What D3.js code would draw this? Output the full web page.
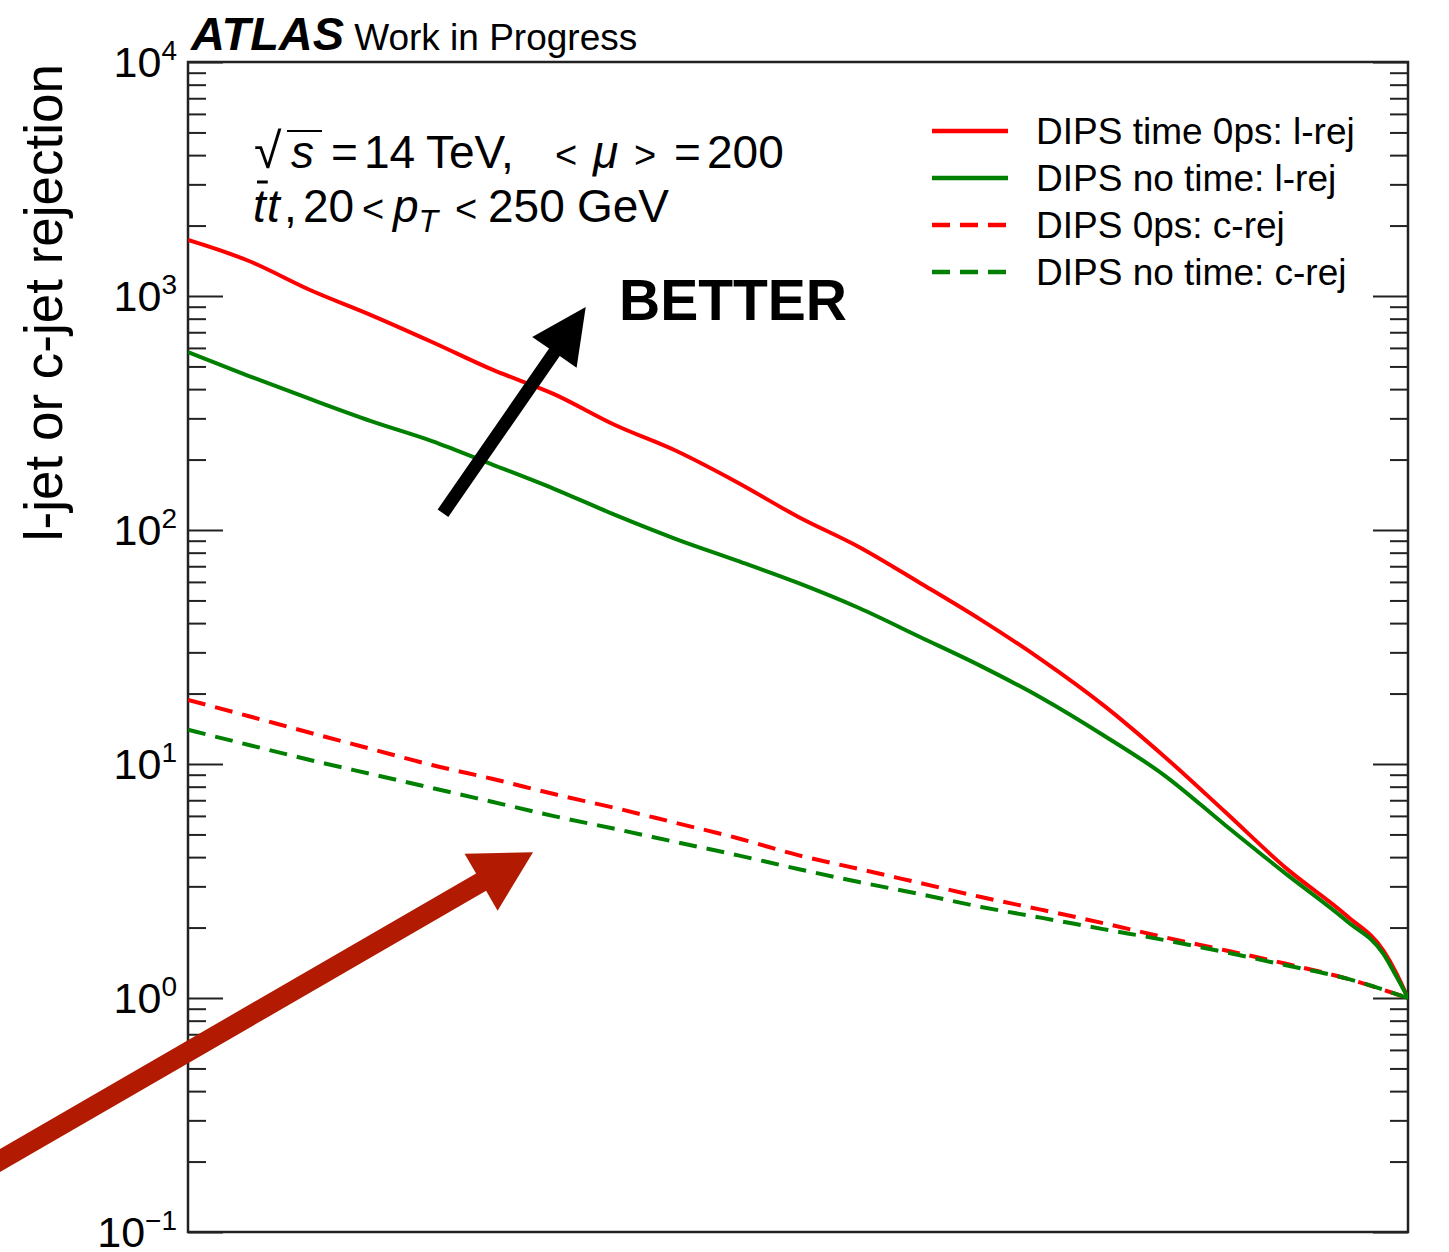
<!DOCTYPE html>
<html>
<head>
<meta charset="utf-8">
<script src="https://cdn.jsdelivr.net/npm/d3@7"></script>
<style>
body { margin: 0; background: #fff; }
svg text { font-family: "Liberation Sans", Arial, Helvetica, sans-serif; fill: #000; }
</style>
</head>
<body>
<div id="chart"></div>
<script>
var effSolid = [0.5, 0.525, 0.55, 0.575, 0.6, 0.625, 0.65, 0.675, 0.7, 0.725, 0.75,
                0.775, 0.8, 0.825, 0.85, 0.875, 0.9, 0.925, 0.95, 0.975, 0.99, 0.995, 1.0];
var effDashed = [0.5, 0.525, 0.55, 0.575, 0.6, 0.625, 0.65, 0.675, 0.7, 0.725, 0.75,
                 0.775, 0.8, 0.825, 0.85, 0.875, 0.9, 0.925, 0.95, 0.975, 1.0];

// light-jet rejection
var lrejTime   = [1735, 1411, 1061, 829, 636, 483, 381, 281, 218, 160, 114,
                  84.6, 59.4, 41.3, 27.8, 17.9, 10.8, 6.25, 3.59, 2.24, 1.59, 1.29, 1.0];
var lrejNoTime = [576, 455, 363, 292, 240, 190, 150, 116, 91.5, 74.0, 59.4,
                  46.4, 34.9, 26.2, 19.1, 13.3, 8.97, 5.49, 3.39, 2.13, 1.54, 1.25, 1.0];
// c-jet rejection
var crejTime   = [18.8, 16.0, 13.6, 11.6, 9.90, 8.63, 7.44, 6.49, 5.60, 4.83, 4.08,
                  3.56, 3.10, 2.70, 2.38, 2.09, 1.82, 1.60, 1.40, 1.21, 1.0];
var crejNoTime = [14.0, 12.06, 10.4, 9.06, 7.90, 6.88, 5.99, 5.28, 4.64, 4.08, 3.56,
                  3.13, 2.78, 2.45, 2.20, 1.97, 1.77, 1.57, 1.38, 1.21, 1.0];

var seriesNames = ["DIPS time 0ps: l-rej", "DIPS no time: l-rej", "DIPS 0ps: c-rej", "DIPS no time: c-rej"];
var yExponents = [-1, 0, 1, 2, 3, 4];

var w = 1449, h = 1252;
// plot frame (note: "top" is taken by window.top, so use other names)
var pLeft = 188, pRight = 1408, pTop = 62, pBottom = 1232;

var svg = d3.select("#chart").append("svg")
    .attr("width", w)
    .attr("height", h);

var x = d3.scaleLinear().domain([0.5, 1]).range([pLeft, pRight]);
var y = d3.scaleLog().domain([0.1, 1e4]).range([pBottom, pTop]);

// ticks: minor ones short, decades long, mirrored on the right side
var isDecade = function(d) { var l = Math.log10(d); return Math.abs(l - Math.round(l)) < 1e-6; };
var minor = y.ticks().filter(function(d) { return !isDecade(d); });
var major = yExponents.map(function(e) { return Math.pow(10, e); });

function styleAxis(g) {
    g.select(".domain").remove();
    g.selectAll(".tick line").attr("stroke", "#222").attr("stroke-width", 2);
}
svg.append("g").attr("transform", "translate(" + pLeft + ",0)")
    .call(d3.axisLeft(y).tickValues(minor).tickSize(-18).tickFormat(""))
    .call(styleAxis);
svg.append("g").attr("transform", "translate(" + pLeft + ",0)")
    .call(d3.axisLeft(y).tickValues(major).tickSize(-35).tickFormat(""))
    .call(styleAxis);
svg.append("g").attr("transform", "translate(" + pRight + ",0)")
    .call(d3.axisRight(y).tickValues(minor).tickSize(-18).tickFormat(""))
    .call(styleAxis);
svg.append("g").attr("transform", "translate(" + pRight + ",0)")
    .call(d3.axisRight(y).tickValues(major).tickSize(-35).tickFormat(""))
    .call(styleAxis);

// 10^n labels
var labels = svg.append("g").selectAll("text")
    .data(yExponents)
    .enter().append("text")
    .attr("x", 177)
    .attr("y", function(e) { return y(Math.pow(10, e)) + 15; })
    .attr("text-anchor", "end")
    .attr("font-size", 43);
labels.append("tspan").text("10");
labels.append("tspan")
    .attr("font-size", 28)
    .attr("dy", -17)
    .text(function(e) { return e < 0 ? "\u2212" + (-e) : e; });

// frame
svg.append("rect")
    .attr("x", pLeft).attr("y", pTop)
    .attr("width", pRight - pLeft).attr("height", pBottom - pTop)
    .attr("fill", "none").attr("stroke", "#222").attr("stroke-width", 2.5);

// curves
var series = [
    { name: seriesNames[0], eff: effSolid,  vals: lrejTime,   color: "#ff0000", dash: null },
    { name: seriesNames[1], eff: effSolid,  vals: lrejNoTime, color: "#008000", dash: null },
    { name: seriesNames[2], eff: effDashed, vals: crejTime,   color: "#ff0000", dash: "18 10" },
    { name: seriesNames[3], eff: effDashed, vals: crejNoTime, color: "#008000", dash: "18 10" }
];

svg.append("clipPath").attr("id", "plotclip")
    .append("rect").attr("x", pLeft).attr("y", pTop)
    .attr("width", pRight - pLeft).attr("height", pBottom - pTop);

var line = d3.line()
    .x(function(d) { return x(d[0]); })
    .y(function(d) { return y(d[1]); })
    .curve(d3.curveMonotoneX);

svg.append("g").attr("clip-path", "url(#plotclip)")
    .selectAll("path")
    .data(series)
    .enter().append("path")
    .attr("d", function(s) { return line(d3.zip(s.eff, s.vals)); })
    .attr("fill", "none")
    .attr("stroke", function(s) { return s.color; })
    .attr("stroke-width", 4)
    .attr("stroke-dasharray", function(s) { return s.dash; });

// legend
var leg = svg.append("g").selectAll("g")
    .data(series)
    .enter().append("g")
    .attr("transform", function(s, i) { return "translate(0," + (131 + i * 47) + ")"; });
leg.append("line")
    .attr("x1", 932).attr("x2", 1008)
    .attr("stroke", function(s) { return s.color; })
    .attr("stroke-width", 4.5)
    .attr("stroke-dasharray", function(s) { return s.dash; });
leg.append("text")
    .attr("x", 1036).attr("y", 13)
    .attr("font-size", 37)
    .text(function(s) { return s.name; });

// ATLAS label
var atl = svg.append("text").attr("x", 191).attr("y", 50);
atl.append("tspan").attr("font-size", 47).attr("font-weight", "bold").attr("font-style", "italic").text("ATLAS");
atl.append("tspan").attr("font-size", 37).attr("dx", 10).text("Work in Progress");

// y title
svg.append("text")
    .attr("transform", "translate(62,64) rotate(-90)")
    .attr("text-anchor", "end")
    .attr("font-size", 53)
    .text("l-jet or c-jet rejection");

// sample description, pieces placed like the TLatex output
var t1 = svg.append("text").attr("y", 168).attr("font-size", 46);
t1.append("tspan").attr("x", 254).attr("font-size", 50).text("\u221A");
t1.append("tspan").attr("x", 291).attr("font-style", "italic").text("s");
t1.append("tspan").attr("x", 331).text("=");
t1.append("tspan").attr("x", 364).text("14");
t1.append("tspan").attr("x", 426).text("TeV,");
t1.append("tspan").attr("x", 555).attr("font-size", 38).text("<");
t1.append("tspan").attr("x", 593).attr("font-style", "italic").text("\u03BC");
t1.append("tspan").attr("x", 634).attr("font-size", 38).text(">");
t1.append("tspan").attr("x", 674).text("=");
t1.append("tspan").attr("x", 707).text("200");
var sBox = t1.node().getExtentOfChar(1);
svg.append("line")
    .attr("x1", sBox.x - 4).attr("x2", sBox.x + sBox.width + 8)
    .attr("y1", sBox.y + 5).attr("y2", sBox.y + 5)
    .attr("stroke", "#000").attr("stroke-width", 2);

var t2 = svg.append("text").attr("y", 222).attr("font-size", 46);
t2.append("tspan").attr("x", 253).attr("font-style", "italic").text("t");
t2.append("tspan").attr("x", 267).attr("font-style", "italic").text("t");
t2.append("tspan").attr("x", 284).text(",");
t2.append("tspan").attr("x", 303).text("20");
t2.append("tspan").attr("x", 362).attr("font-size", 38).text("<");
t2.append("tspan").attr("x", 393).attr("font-style", "italic").text("p");
t2.append("tspan").attr("font-style", "italic").attr("font-size", 32).attr("dy", 10).text("T");
t2.append("tspan").attr("x", 455).attr("dy", -10).attr("font-size", 38).text("<");
t2.append("tspan").attr("x", 488).text("250");
t2.append("tspan").attr("x", 577).text("GeV");
var tBox = t2.node().getExtentOfChar(0);
svg.append("line")
    .attr("x1", tBox.x + 4).attr("x2", tBox.x + tBox.width + 2)
    .attr("y1", tBox.y + 2).attr("y2", tBox.y + 2)
    .attr("stroke", "#000").attr("stroke-width", 3);

// BETTER annotation
svg.append("text")
    .attr("x", 619).attr("y", 320)
    .attr("font-size", 57).attr("font-weight", "bold")
    .text("BETTER");

// arrows, given in data coordinates
function arrow(from, to, shaft, headLen, headHalf, color) {
    var x0 = x(from[0]), y0 = y(from[1]), x1 = x(to[0]), y1 = y(to[1]);
    var len = Math.hypot(x1 - x0, y1 - y0);
    var ux = (x1 - x0) / len, uy = (y1 - y0) / len;
    var nx = -uy, ny = ux;
    var bx = x1 - ux * headLen, by = y1 - uy * headLen;
    var pts = [
        [x0 + nx * shaft / 2, y0 + ny * shaft / 2],
        [bx + nx * shaft / 2, by + ny * shaft / 2],
        [bx + nx * headHalf, by + ny * headHalf],
        [x1, y1],
        [bx - nx * headHalf, by - ny * headHalf],
        [bx - nx * shaft / 2, by - ny * shaft / 2],
        [x0 - nx * shaft / 2, y0 - ny * shaft / 2]
    ];
    svg.append("path")
        .attr("d", "M" + pts.join("L") + "Z")
        .attr("fill", color);
}
arrow([0.6045, 118], [0.663, 897], 13, 55, 27, "#000");
arrow([0.4148, 0.1805], [0.6414, 4.2], 20, 60, 33, "#b21b02");
</script>
</body>
</html>
